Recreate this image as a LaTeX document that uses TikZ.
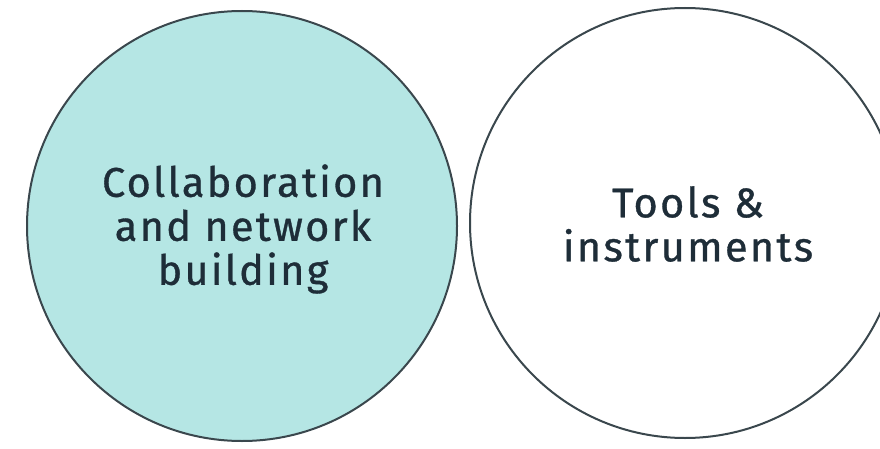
\documentclass[tikz,border=0pt]{standalone}
\usepackage{fontspec}
\setmainfont{Fira Sans}[LetterSpace=5.5,Ligatures=NoCommon,FakeBold=0.8]
\definecolor{fillteal}{HTML}{B5E6E4}
\definecolor{edge}{HTML}{3A474D}
\definecolor{txt}{HTML}{1E2D38}
\begin{document}
\begin{tikzpicture}[x=1pt,y=1pt,
  circ/.style={circle,draw=edge,line width=2pt,inner sep=0pt,minimum size=430pt},
  lbl/.style={align=center,text=txt,font=\fontsize{41.5}{44}\selectfont}]
\useasboundingbox (0,0) rectangle (880,448);
\node[circ,fill=fillteal] (left) at (242,222) {};
\node[circ,fill=white] (right) at (685,225) {};
\node[lbl] (ltext) at (243,219) {Collaboration\\and network\\building};
\node[lbl] (rtext) at (688,224) {Tools \&\\instruments};
\end{tikzpicture}
\end{document}
